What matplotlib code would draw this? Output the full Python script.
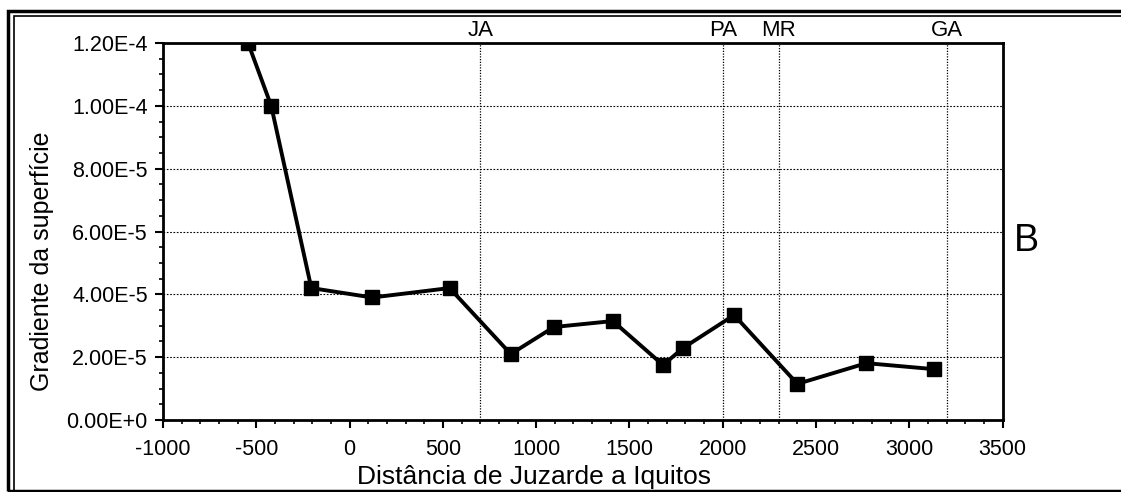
import matplotlib.pyplot as plt
from matplotlib.ticker import MultipleLocator
from matplotlib.patches import Rectangle

plt.rcParams["font.family"] = ["Liberation Sans", "DejaVu Sans"]
plt.rcParams["axes.unicode_minus"] = False

# data
distancia = [-544, -420, -205, 122, 536, 864, 1095, 1411, 1680, 1787, 2061, 2400, 2770, 3130]
gradiente = [1.20e-4, 1.00e-4, 4.2e-5, 3.9e-5, 4.2e-5, 2.1e-5, 2.96e-5, 3.15e-5,
             1.75e-5, 2.29e-5, 3.34e-5, 1.15e-5, 1.81e-5, 1.62e-5]

locais = ["JA", "PA", "MR", "GA"]
locais_x = [700, 2000, 2300, 3200]

y_ticks = [0, 2e-5, 4e-5, 6e-5, 8e-5, 1.0e-4, 1.2e-4]
y_labels = ["0.00E+0", "2.00E-5", "4.00E-5", "6.00E-5", "8.00E-5", "1.00E-4", "1.20E-4"]
x_ticks = [-1000, -500, 0, 500, 1000, 1500, 2000, 2500, 3000, 3500]

fig = plt.figure(figsize=(11.21, 4.92), dpi=100)
ax = fig.add_axes([0.1454, 0.1463, 0.749, 0.7663])

# grid lines
for y in y_ticks[1:-1]:
    ax.axhline(y, color="black", lw=0.8, ls=(0, (1.5, 1.5)), zorder=1)
for x in locais_x:
    ax.axvline(x, color="black", lw=0.9, ls=(0, (1, 1.2)), zorder=1)

ax.plot(distancia, gradiente, color="black", lw=2.8, marker="s", markersize=10, zorder=3)

ax.set_xlim(-1000, 3500)
ax.set_ylim(0, 1.2e-4)
ax.set_xticks(x_ticks)
ax.set_yticks(y_ticks)
ax.set_yticklabels(y_labels)
ax.xaxis.set_minor_locator(MultipleLocator(100))
ax.yaxis.set_minor_locator(MultipleLocator(5e-6))
ax.tick_params(axis="both", which="major", direction="out", length=6, width=1.5, labelsize=15.5)
ax.tick_params(axis="both", which="minor", direction="out", length=3, width=1.2)
ax.tick_params(axis="x", pad=8)
ax.tick_params(axis="y", pad=5)

for side in ["left", "bottom", "right", "top"]:
    ax.spines[side].set_linewidth(2)

for nome, x in zip(locais, locais_x):
    ax.text(x, 1.205e-4, nome, ha="center", va="bottom", fontsize=16)

ax.set_ylabel("Gradiente da superfície", fontsize=18)
ax.yaxis.set_label_coords(-0.13, 0.42)
ax.set_xlabel("Distância de Juzarde a Iquitos", fontsize=19)
ax.xaxis.set_label_coords(0.442, -0.118)

fig.text(0.916, 0.51, "B", fontsize=27, ha="center", va="center")

# double frame around the figure
fig.patches.append(Rectangle((0.007, 0.003), 1.2, 0.975, transform=fig.transFigure,
                             fill=False, lw=2.5, color="black"))
fig.patches.append(Rectangle((0.0125, 0.003), 1.2, 0.965, transform=fig.transFigure,
                             fill=False, lw=1.2, color="black"))

fig.savefig("out.png", dpi=100)
